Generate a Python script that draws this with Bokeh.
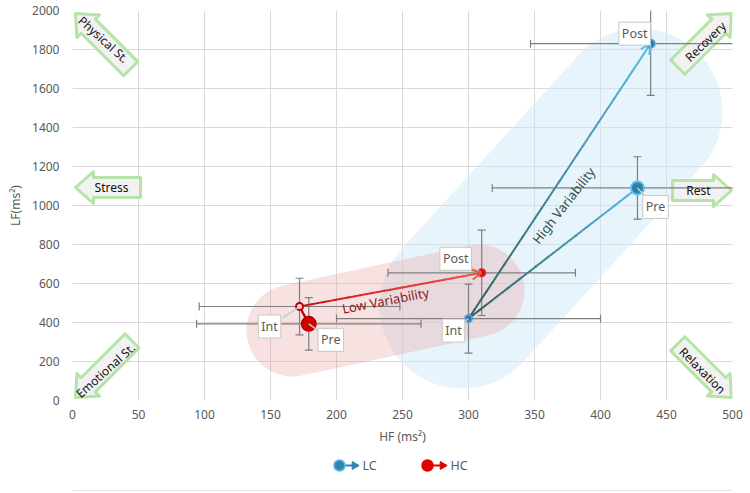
import numpy as np
from bokeh.plotting import figure
from bokeh.layouts import column
from bokeh.models import (Label, Arrow, OpenHead, Range1d, FixedTicker)
from bokeh.core.properties import value
from bokeh.embed import file_html
from bokeh.resources import INLINE

# ---------------- data ----------------
phases = ["Pre", "Int", "Post"]
lc_hf = [428, 300, 438]
lc_lf = [1090, 420, 1830]
lc_hf_err = [110, 100, 91]
lc_lf_err = [160, 177, 265]
hc_hf = [179, 172, 310]
hc_lf = [393, 482, 655]
hc_hf_err = [85, 76, 71]
hc_lf_err = [135, 145, 219]
x_ticks = [0, 50, 100, 150, 200, 250, 300, 350, 400, 450, 500]
y_ticks = [0, 200, 400, 600, 800, 1000, 1200, 1400, 1600, 1800, 2000]
quadrant_labels = ["Physical St.", "Recovery", "Stress", "Rest", "Emotional St.", "Relaxation"]
series_names = ["LC", "HC"]

# ---------------- layout constants ----------------
L, T, FW, FH = 72, 10, 660, 390
R = 750 - L - FW
MAIN_H = 448
XMAX, YMAX = 500, 2000
FONT = "Noto Sans"
GREY_TXT = "#595959"


def dpt(ix, iy):
    """image pixel -> data coords"""
    return (ix - L) * XMAX / FW, (FH - (iy - T)) * YMAX / FH


def dpx(dx):
    return dx * XMAX / FW


def dpy(dy):
    return dy * YMAX / FH


p = figure(frame_width=FW, frame_height=FH, output_backend="svg", toolbar_location=None,
           x_range=Range1d(0, XMAX), y_range=Range1d(0, YMAX),
           min_border_left=L, min_border_top=T, min_border_right=R,
           min_border_bottom=MAIN_H - T - FH)
p.outline_line_color = None
p.background_fill_color = "white"
p.border_fill_color = "white"

for ax in (p.xaxis[0], p.yaxis[0]):
    ax.axis_line_color = None
    ax.major_tick_line_color = None
    ax.minor_tick_line_color = None
    ax.major_tick_out = 0
    ax.major_tick_in = 0
    ax.major_label_text_font = FONT
    ax.major_label_text_font_size = "12px"
    ax.major_label_text_color = GREY_TXT
    ax.axis_label_text_font = FONT
    ax.axis_label_text_font_size = "12px"
    ax.axis_label_text_font_style = "normal"
    ax.axis_label_text_color = GREY_TXT
p.xaxis.ticker = FixedTicker(ticks=x_ticks)
p.yaxis.ticker = FixedTicker(ticks=y_ticks)
p.xaxis.axis_label = "HF (ms²)"
p.yaxis.axis_label = "LF(ms²)"
p.xaxis.major_label_standoff = 9
p.xaxis.axis_label_standoff = 6
p.yaxis.major_label_standoff = 13
p.yaxis.axis_label_standoff = 5
p.grid.grid_line_color = "#d9d9d9"
p.grid.grid_line_width = 1


# ---------------- background bands ----------------
def stadium(c1, c2, r, n=40):
    c1 = np.array(c1, float); c2 = np.array(c2, float)
    u = c2 - c1
    th = np.arctan2(u[1], u[0])
    a2 = np.linspace(th - np.pi / 2, th + np.pi / 2, n)
    a1 = np.linspace(th + np.pi / 2, th + 3 * np.pi / 2, n)
    pts = np.concatenate([c2 + r * np.c_[np.cos(a2), np.sin(a2)],
                          c1 + r * np.c_[np.cos(a1), np.sin(a1)]])
    xs, ys = zip(*[dpt(px, py) for px, py in pts])
    return list(xs), list(ys)


bx, by = stadium((462, 305), (639, 111), 83)
p.patch(bx, by, fill_color="#d2eaf8", fill_alpha=0.5, line_color=None)
rx, ry = stadium((292, 330), (478, 290), 46)
p.patch(rx, ry, fill_color="#e8a4a4", fill_alpha=0.33, line_color=None)


# ---------------- block arrows ----------------
def block_arrow(tip, ang_deg, length, bw, hw, hl):
    tip = np.array(tip, float)
    a = np.radians(ang_deg)
    u = np.array([np.cos(a), np.sin(a)])  # tail -> tip (image coords)
    n = np.array([-u[1], u[0]])
    neck = tip - hl * u
    tail = tip - length * u
    pts = [tip, neck + hw * n, neck + bw * n, tail + bw * n,
           tail - bw * n, neck - bw * n, neck - hw * n]
    xs, ys = zip(*[dpt(px, py) for px, py in pts])
    return list(xs), list(ys)


arrows = [
    # tip, direction(deg, image coords), length, text centre, text angle
    ((75, 13), 225, 78, (103, 39), -42),
    ((731, 13), -45, 76, (705, 41), 44),
    ((75, 187), 180, 65, (111, 187), 0),
    ((731, 190), 0, 59, (698, 190), 0),
    ((75, 397), 135, 80, (105, 370), 42),
    ((731, 397), 45, 76, (702, 370), -45),
]
for lbl, (tip, ang, ln, tc, ta) in zip(quadrant_labels, arrows):
    ax_, ay_ = block_arrow(tip, ang, ln, 10, 16, 18)
    p.patch(ax_, ay_, fill_color="#f2f2f2", line_color="#b6e3a8", line_width=3, line_join="round")
    tx, ty = dpt(*tc)
    p.add_layout(Label(x=tx, y=ty, text=lbl, angle=np.radians(ta), text_align="center",
                       text_baseline="middle", text_font=FONT, text_font_size="12px",
                       text_color="#111111"))


# ---------------- error bars ----------------
def error_bars(hf, lf, ex, ey):
    hf = np.array(hf, float); lf = np.array(lf, float)
    ex = np.array(ex, float); ey = np.array(ey, float)
    p.segment(hf - ex, lf, hf + ex, lf, line_color="#7f7f7f", line_width=1.2)
    p.segment(hf, lf - ey, hf, lf + ey, line_color="#7f7f7f", line_width=1.2)
    p.scatter(np.r_[hf, hf], np.r_[lf - ey, lf + ey], marker="dash", size=8,
              line_color="#7f7f7f", line_width=1.2)
    p.scatter(np.r_[hf - ex, hf + ex], np.r_[lf, lf], marker="dash", angle=np.pi / 2, size=8,
              line_color="#7f7f7f", line_width=1.2)


error_bars(lc_hf, lc_lf, lc_hf_err, lc_lf_err)
error_bars(hc_hf, hc_lf, hc_hf_err, hc_lf_err)


# ---------------- gradient lines ----------------
def hex2rgb(h):
    h = h.lstrip("#")
    return np.array([int(h[i:i + 2], 16) for i in (0, 2, 4)], float)


def rgb2hex(c):
    return "#%02x%02x%02x" % tuple(int(round(v)) for v in c)


def grad_line(xs, ys, cols, n=30):
    x0s, y0s, x1s, y1s, cs = [], [], [], [], []
    for i in range(len(xs) - 1):
        ca, cb = hex2rgb(cols[i]), hex2rgb(cols[i + 1])
        ts = np.linspace(0, 1, n + 1)
        sx = xs[i] + (xs[i + 1] - xs[i]) * ts
        sy = ys[i] + (ys[i + 1] - ys[i]) * ts
        for k in range(n):
            x0s.append(sx[k]); y0s.append(sy[k]); x1s.append(sx[k + 1]); y1s.append(sy[k + 1])
            cs.append(rgb2hex(ca + (cb - ca) * (k + 0.5) / n))
    p.segment(x0s, y0s, x1s, y1s, line_color=cs, line_width=2, line_cap="round")


lc_cols = ["#5ab9e6", "#2d5f5c", "#5ab9e6"]
hc_cols = ["#c00000", "#c81010", "#f0584a"]
grad_line(lc_hf, lc_lf, lc_cols)
grad_line(hc_hf, hc_lf, hc_cols)

p.add_layout(Arrow(end=OpenHead(size=10, line_color="#5ab9e6", line_width=2),
                   x_start=lc_hf[1] + 0.9 * (lc_hf[2] - lc_hf[1]),
                   y_start=lc_lf[1] + 0.9 * (lc_lf[2] - lc_lf[1]),
                   x_end=lc_hf[2], y_end=lc_lf[2], line_alpha=0))
p.add_layout(Arrow(end=OpenHead(size=10, line_color="#f0584a", line_width=2),
                   x_start=hc_hf[1] + 0.9 * (hc_hf[2] - hc_hf[1]),
                   y_start=hc_lf[1] + 0.9 * (hc_lf[2] - hc_lf[1]),
                   x_end=hc_hf[2], y_end=hc_lf[2], line_alpha=0))

# ---------------- markers ----------------
p.scatter(lc_hf, lc_lf, size=[13, 7, 8], fill_color=["#2f7fab", "#2a6f9a", "#2a6f9a"],
          line_color=["#5bc0eb", "#4a9fd0", "#4a9fd0"], line_width=2)
p.scatter(hc_hf, hc_lf, size=[14, 7, 7], fill_color=["#d40000", "#ffd9d9", "#d40000"],
          line_color=["#c00000", "#c00000", "#e02020"], line_width=2)

# ---------------- phase callouts ----------------
lc_off = [(18, -19), (-15, -12), (-16, 10)]
hc_off = [(22, -16), (-30, -20), (-26, 14)]
for hf, lf, offs in ((lc_hf, lc_lf, lc_off), (hc_hf, hc_lf, hc_off)):
    for ph, x, y, (ox, oy) in zip(phases, hf, lf, offs):
        p.segment(x, y, x + dpx(ox * 0.55), y + dpy(oy * 0.55), line_color="#c8c8c8", line_width=1.5)
        p.add_layout(Label(x=x, y=y, x_offset=ox, y_offset=oy, text=ph, text_align="center",
                           text_baseline="middle", text_font=FONT, text_font_size="12.5px",
                           text_color=GREY_TXT, background_fill_color="white",
                           border_line_color="#c8c8c8", padding=3))

# ---------------- band texts ----------------
hx, hy = dpt(563, 205)
p.add_layout(Label(x=hx, y=hy, text="High Variability", angle=np.radians(52), text_align="center",
                   text_baseline="middle", text_font=FONT, text_font_size="13px", text_color="#2f4f4f"))
lx, ly = dpt(385, 300)
p.add_layout(Label(x=lx, y=ly, text="Low Variability", angle=np.radians(11), text_align="center",
                   text_baseline="middle", text_font=FONT, text_font_size="13px", text_color="#8b1a1a"))

# ---------------- legend strip (separate small figure, same frame alignment) ----------------
LEG_H = 493 - MAIN_H
lg = figure(frame_width=FW, frame_height=LEG_H, output_backend="svg", toolbar_location=None,
            x_range=Range1d(L, L + FW), y_range=Range1d(0, LEG_H),
            min_border_left=L, min_border_right=R, min_border_top=0, min_border_bottom=0,
            outline_line_color=None)
lg.axis.visible = False
lg.grid.visible = False
lg.border_fill_color = "white"
LY = 493 - 465
leg_styles = [  # circle x (image px), circle colour, ring colour, arrow colour
    (339, "#2f86b0", "#5ab9e6", "#2f86b0"),
    (427, "#e00000", "#e00000", "#e00000"),
]
for name, (cx, fc, rc, ac) in zip(series_names, leg_styles):
    lg.segment(cx, LY, cx + 18, LY, line_color=ac, line_width=2)
    lg.scatter(cx + 15, LY, marker="triangle", angle=-np.pi / 2, size=8, fill_color=ac, line_color=ac)
    lg.scatter(cx, LY, size=11, fill_color=fc, line_color=rc, line_width=1.5)
    lg.text(cx + 23, LY, text=[name], text_align="left", text_baseline="middle",
            text_font_size=value("12.5px"), text_color=GREY_TXT, text_font=value(FONT))
lg.segment(L, 3, L + FW, 3, line_color="#e3e3e3", line_width=1)

layout = column(p, lg, spacing=0)
open("out.html", "w").write(file_html(layout, INLINE))
